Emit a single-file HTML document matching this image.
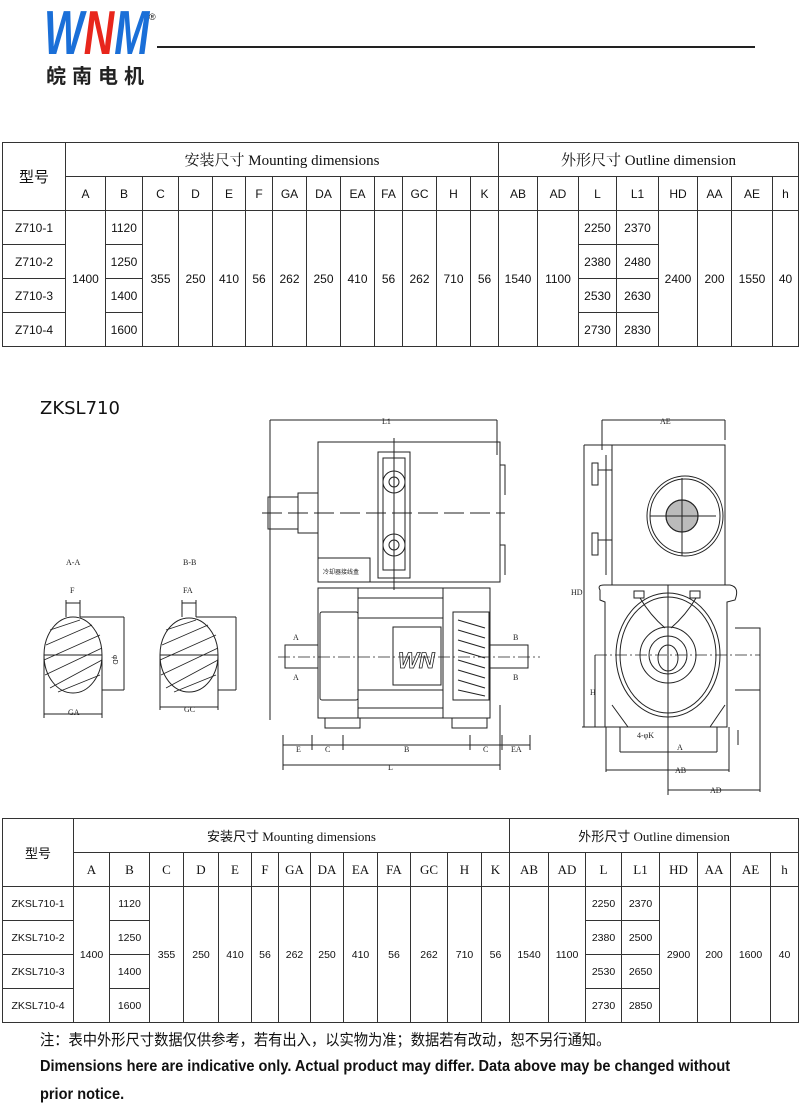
<!DOCTYPE html>
<html><head><meta charset="utf-8"><style>
body{margin:0;width:800px;height:1111px;background:#fff;position:relative;overflow:hidden;font-family:"Liberation Sans","Noto Sans CJK SC",sans-serif;color:#111}
table{position:absolute;left:2px;border-collapse:collapse;table-layout:fixed;width:796px}
td{border:1px solid #333;text-align:center;padding:0;height:33px;font-size:12px;font-family:"Liberation Sans Narrow","Liberation Sans","Noto Sans CJK SC",sans-serif}
.h{font-family:"Liberation Serif","Noto Serif CJK SC",serif;font-size:15px}
.t2 td{font-family:"Liberation Serif","Noto Sans CJK SC",serif;font-size:13px}
.t2 td.s{font-size:10.5px;font-family:"Liberation Sans Narrow","Liberation Sans",sans-serif}
.m{font-size:15px;font-family:"Noto Sans CJK SC",sans-serif !important}
</style></head><body>
<div style="position:absolute;left:44px;top:3px;font:italic 900 62px 'Liberation Sans',sans-serif;letter-spacing:0;line-height:62px;transform:scaleX(0.68);transform-origin:left;white-space:nowrap"><span style="color:#1a6fd8">W</span><span style="color:#e8261c">N</span><span style="color:#1a6fd8">M</span></div>
<div style="position:absolute;left:149px;top:12px;font-size:9px">®</div>
<div style="position:absolute;left:46px;top:60px;font:bold 20px 'Noto Sans CJK SC',sans-serif;letter-spacing:6px;color:#222;white-space:nowrap">皖南电机</div>
<div style="position:absolute;left:157px;top:46px;width:598px;height:2px;background:#222"></div>

<table style="top:142px">
<colgroup><col style="width:63px"><col style="width:40px"><col style="width:37px"><col style="width:36px"><col style="width:34px"><col style="width:33px"><col style="width:27px"><col style="width:34px"><col style="width:34px"><col style="width:34px"><col style="width:28px"><col style="width:34px"><col style="width:34px"><col style="width:28px"><col style="width:39px"><col style="width:41px"><col style="width:38px"><col style="width:42px"><col style="width:39px"><col style="width:34px"><col style="width:41px"><col style="width:26px"></colgroup>
<tr><td rowspan="2" class="m">型号</td><td colspan="13" class="h">安装尺寸 Mounting dimensions</td><td colspan="8" class="h">外形尺寸 Outline dimension</td></tr>
<tr><td>A</td><td>B</td><td>C</td><td>D</td><td>E</td><td>F</td><td>GA</td><td>DA</td><td>EA</td><td>FA</td><td>GC</td><td>H</td><td>K</td><td>AB</td><td>AD</td><td>L</td><td>L1</td><td>HD</td><td>AA</td><td>AE</td><td>h</td></tr>
<tr><td>Z710-1</td><td rowspan="4">1400</td><td>1120</td><td rowspan="4">355</td><td rowspan="4">250</td><td rowspan="4">410</td><td rowspan="4">56</td><td rowspan="4">262</td><td rowspan="4">250</td><td rowspan="4">410</td><td rowspan="4">56</td><td rowspan="4">262</td><td rowspan="4">710</td><td rowspan="4">56</td><td rowspan="4">1540</td><td rowspan="4">1100</td><td>2250</td><td>2370</td><td rowspan="4">2400</td><td rowspan="4">200</td><td rowspan="4">1550</td><td rowspan="4">40</td></tr>
<tr><td>Z710-2</td><td>1250</td><td>2380</td><td>2480</td></tr>
<tr><td>Z710-3</td><td>1400</td><td>2530</td><td>2630</td></tr>
<tr><td>Z710-4</td><td>1600</td><td>2730</td><td>2830</td></tr>
</table>

<div style="position:absolute;left:40px;top:398px;font-size:18px;font-family:'DejaVu Sans',sans-serif">ZKSL710</div>

<svg style="position:absolute;left:0;top:0" width="800" height="1111" fill="none" stroke="#222" stroke-width="1">
<g font-family="Liberation Serif" font-size="8" fill="#222" stroke="none">
<text x="66" y="565">A-A</text><text x="183" y="565">B-B</text>
<text x="70" y="593">F</text><text x="183" y="593">FA</text>
<text x="68" y="715">GA</text><text x="184" y="712">GC</text>
<text x="382" y="424">L1</text><text x="660" y="424">AE</text>
<text x="296" y="752">E</text><text x="325" y="752">C</text><text x="404" y="752">B</text><text x="483" y="752">C</text><text x="511" y="752">EA</text>
<text x="388" y="770">L</text><text x="677" y="750">A</text><text x="675" y="773">AB</text><text x="710" y="793">AD</text>
<text x="293" y="640">A</text><text x="293" y="680">A</text><text x="513" y="640">B</text><text x="513" y="680">B</text>
<text x="637" y="738">4-φK</text><text x="590" y="695">H</text><text x="571" y="595">HD</text>
</g>
<ellipse cx="73" cy="655" rx="29" ry="38"/><ellipse cx="189" cy="655" rx="29" ry="37"/>
<g stroke-width="0.8">
<path d="M50 630L80 620M46 645L92 625M44 660L100 635M45 675L102 648M50 688L102 660M58 692L100 675"/>
<path d="M166 630L196 620M162 645L208 625M160 660L216 635M161 675L218 648M166 688L218 660M174 692L216 675"/>
</g>
<path d="M44 655H102M160 655H218M66 600V617M80 600V617M66 603H80M182 600V617M196 600V617M182 603H196M80 617H124M124 617V690M102 690H124M196 617H236M236 617V690M218 690H236M44 655V718M102 655V718M44 714H102M160 655V710M218 655V710M160 707H218"/>
<text x="118" y="660" font-size="7" fill="#222" stroke="none" transform="rotate(90 118 655)">φD</text>
<path d="M270 420H497M270 420V720M497 420V455"/>
<rect x="318" y="442" width="182" height="140"/>
<rect x="268" y="497" width="30" height="32"/><rect x="298" y="493" width="20" height="40"/>
<path d="M262 513H505" stroke-dasharray="20 6"/>
<rect x="378" y="452" width="32" height="126"/><rect x="383" y="458" width="22" height="112"/>
<circle cx="394" cy="482" r="11"/><circle cx="394" cy="482" r="5"/><circle cx="394" cy="545" r="11"/><circle cx="394" cy="545" r="5"/>
<path d="M394 438V590"/>
<rect x="318" y="558" width="52" height="24"/>
<text x="323" y="574" font-size="6" fill="#222" stroke="none" font-family="Noto Sans CJK SC">冷却器接线盒</text>
<path d="M500 465H505V495M500 545H505V575"/>
<rect x="318" y="588" width="172" height="130"/>
<rect x="320" y="612" width="38" height="88" rx="2"/>
<rect x="453" y="612" width="36" height="88"/>
<path d="M458 620L485 628M458 630L485 638M458 640L485 648M458 650L485 658M458 660L485 668M458 670L485 678M458 680L485 688M458 690L485 696"/>
<rect x="393" y="627" width="48" height="58"/>
<text x="398" y="668" font-size="22" font-style="italic" font-weight="bold" fill="#fff" stroke="#222" stroke-width="0.8" font-family="Liberation Sans">WN</text>
<path d="M358 598H443M358 618H443M358 690H443M358 708H443M358 588V718M443 588V718"/>
<path d="M285 645H318V668H285ZM490 645H528V668H490Z"/>
<path d="M278 657H540" stroke-dasharray="12 3 2 3" stroke-width="0.7"/>
<rect x="325" y="718" width="35" height="10"/><rect x="452" y="718" width="35" height="10"/>
<path d="M283 745H530M283 735V770M312 735V750M343 735V750M470 735V750M502 735V750M530 735V750M283 765H500M500 705V770"/>
<path d="M602 420H725M602 420V450M725 420V440M584 445V727M584 445H612"/>
<rect x="612" y="445" width="113" height="140"/>
<path d="M606 455V575M598 470H612M598 540H612"/><rect x="592" y="463" width="6" height="22"/><rect x="592" y="533" width="6" height="22"/>
<ellipse cx="685" cy="516" rx="38" ry="40"/><ellipse cx="685" cy="516" rx="35" ry="37"/>
<circle cx="682" cy="516" r="16" fill="#bbb" stroke-width="1.2"/>
<path d="M650 516H716M682 478V556"/>
<path d="M600 590Q597 585 604 585H730Q740 587 735 600L727 602V727H605V602L600 600Z"/>
<ellipse cx="668" cy="655" rx="52" ry="62"/><ellipse cx="668" cy="655" rx="48" ry="58"/>
<circle cx="668" cy="655" r="28"/><circle cx="668" cy="655" r="19"/><ellipse cx="668" cy="658" rx="10" ry="13"/>
<path d="M640 598Q650 615 665 628M696 598Q686 615 671 628"/>
<rect x="634" y="591" width="10" height="7"/><rect x="690" y="591" width="10" height="7"/>
<path d="M735 628H760V690H735"/>
<path d="M595 655H760" stroke-dasharray="12 3 2 3" stroke-width="0.7"/>
<path d="M668 585V795"/>
<path d="M612 705L628 727M725 705L710 727"/>
<path d="M582 727H615M595 655V727M620 752H717M606 770H729M668 790H760M606 727V772M729 727V772M760 690V792M620 727V752M717 727V752M738 730V745"/>
</svg>

<table class="t2" style="top:818px">
<colgroup><col style="width:71px"><col style="width:36px"><col style="width:40px"><col style="width:34px"><col style="width:35px"><col style="width:33px"><col style="width:27px"><col style="width:32px"><col style="width:33px"><col style="width:34px"><col style="width:33px"><col style="width:37px"><col style="width:34px"><col style="width:28px"><col style="width:39px"><col style="width:37px"><col style="width:36px"><col style="width:38px"><col style="width:38px"><col style="width:33px"><col style="width:40px"><col style="width:28px"></colgroup>
<tr><td rowspan="2" class="m">型号</td><td colspan="13" class="h">安装尺寸 Mounting dimensions</td><td colspan="8" class="h">外形尺寸 Outline dimension</td></tr>
<tr><td>A</td><td>B</td><td>C</td><td>D</td><td>E</td><td>F</td><td>GA</td><td>DA</td><td>EA</td><td>FA</td><td>GC</td><td>H</td><td>K</td><td>AB</td><td>AD</td><td>L</td><td>L1</td><td>HD</td><td>AA</td><td>AE</td><td>h</td></tr>
<tr><td class="s">ZKSL710-1</td><td rowspan="4" class="s">1400</td><td class="s">1120</td><td rowspan="4" class="s">355</td><td rowspan="4" class="s">250</td><td rowspan="4" class="s">410</td><td rowspan="4" class="s">56</td><td rowspan="4" class="s">262</td><td rowspan="4" class="s">250</td><td rowspan="4" class="s">410</td><td rowspan="4" class="s">56</td><td rowspan="4" class="s">262</td><td rowspan="4" class="s">710</td><td rowspan="4" class="s">56</td><td rowspan="4" class="s">1540</td><td rowspan="4" class="s">1100</td><td class="s">2250</td><td class="s">2370</td><td rowspan="4" class="s">2900</td><td rowspan="4" class="s">200</td><td rowspan="4" class="s">1600</td><td rowspan="4" class="s">40</td></tr>
<tr><td class="s">ZKSL710-2</td><td class="s">1250</td><td class="s">2380</td><td class="s">2500</td></tr>
<tr><td class="s">ZKSL710-3</td><td class="s">1400</td><td class="s">2530</td><td class="s">2650</td></tr>
<tr><td class="s">ZKSL710-4</td><td class="s">1600</td><td class="s">2730</td><td class="s">2850</td></tr>
</table>

<div style="position:absolute;left:40px;top:1028px;font-size:15.5px;font-family:'Noto Sans CJK SC',sans-serif;transform:scaleX(0.92);transform-origin:left;white-space:nowrap">注：表中外形尺寸数据仅供参考，若有出入，以实物为准；数据若有改动，恕不另行通知。</div>
<div style="position:absolute;left:40px;top:1053px;font:bold 16px/28px 'Liberation Sans',sans-serif;transform:scaleX(0.91);transform-origin:left;white-space:nowrap">Dimensions here are indicative only. Actual product may differ. Data above may be changed without<br>prior notice.</div>
</body></html>
